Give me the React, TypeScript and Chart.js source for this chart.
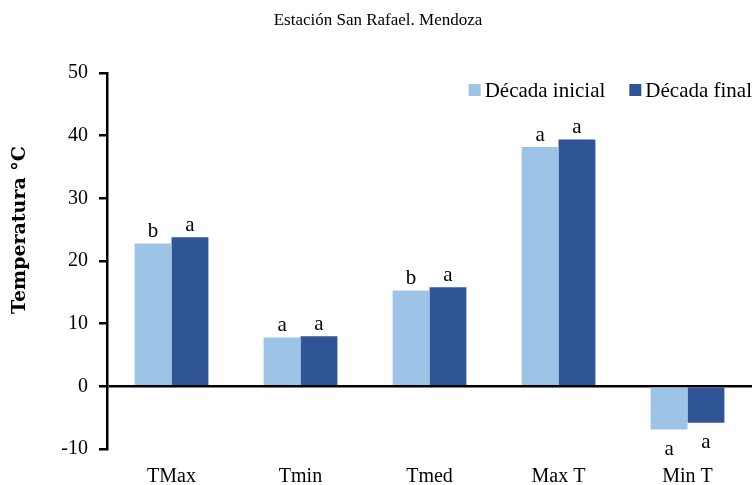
import React, { useEffect, useRef } from "react";
import { Chart, registerables } from "chart.js";

Chart.register(...registerables);

const categories = ["TMax", "Tmin", "Tmed", "Max T", "Min T"];
const seriesNames = ["Década inicial", "Década final"];
const inicialValues = [22.8, 7.8, 15.3, 38.2, -6.9];
const finalValues = [23.8, 8.0, 15.8, 39.4, -5.8];
const inicialLetters = ["b", "a", "b", "a", "a"];
const finalLetters = ["a", "a", "a", "a", "a"];
const yTicks = [-10, 0, 10, 20, 30, 40, 50];
const titleText = "Estación San Rafael. Mendoza";
const yTitle = "Temperatura °C";

const LIGHT = "#9DC3E6";
const DARK = "#2F5597";
const SERIF = "'Liberation Serif', serif";

const lettersPlugin = {
  id: "letters",
  afterDatasetsDraw(chart: any) {
    const ctx = chart.ctx;
    const letterSets = [inicialLetters, finalLetters];
    ctx.save();
    ctx.font = `21px ${SERIF}`;
    ctx.fillStyle = "#000";
    ctx.textAlign = "center";
    ctx.textBaseline = "alphabetic";
    chart.data.datasets.forEach((ds: any, di: number) => {
      const meta = chart.getDatasetMeta(di);
      meta.data.forEach((el: any, i: number) => {
        const v = ds.data[i];
        const txt = letterSets[di][i];
        if (v >= 0) ctx.fillText(txt, el.x, el.y - 6);
        else ctx.fillText(txt, el.x, el.y + 25);
      });
    });
    ctx.restore();
  },
};

const textPlugin = {
  id: "texts",
  afterDraw(chart: any) {
    const ctx = chart.ctx;
    const area = chart.chartArea;
    const xs = chart.scales.x;
    ctx.save();
    // category labels
    ctx.font = `20px ${SERIF}`;
    ctx.fillStyle = "#000";
    ctx.textAlign = "center";
    ctx.textBaseline = "alphabetic";
    categories.forEach((c, i) => {
      ctx.fillText(c, xs.getPixelForValue(i), area.bottom + 33);
    });
    // chart title
    ctx.font = `17px ${SERIF}`;
    ctx.fillText(titleText, chart.width / 2, 25);
    // y title
    ctx.save();
    ctx.translate(25, 230);
    ctx.rotate(-Math.PI / 2);
    ctx.font = `bold 19px 'DejaVu Serif', serif`;
    ctx.fillText(yTitle, 0, 0);
    ctx.restore();
    // legend
    ctx.font = `21px ${SERIF}`;
    ctx.textAlign = "left";
    const colors = [LIGHT, DARK];
    const right = chart.width - 4;
    const baseline = 97;
    const w1 = ctx.measureText(seriesNames[1]).width;
    const t2 = right - w1;
    const b2 = t2 - 16;
    const w0 = ctx.measureText(seriesNames[0]).width;
    const t1 = b2 - 24 - w0;
    const b1 = t1 - 16;
    const items = [
      { box: b1, text: t1 },
      { box: b2, text: t2 },
    ];
    items.forEach((it, i) => {
      ctx.fillStyle = colors[i];
      ctx.fillRect(it.box, baseline - 13, 12, 12);
      ctx.fillStyle = "#000";
      ctx.fillText(seriesNames[i], it.text, baseline);
    });
    ctx.restore();
  },
};

export default function App() {
  const ref = useRef<HTMLCanvasElement | null>(null);
  useEffect(() => {
    if (!ref.current) return;
    const chart = new Chart(ref.current, {
      type: "bar",
      data: {
        labels: categories,
        datasets: [
          {
            label: seriesNames[0],
            data: inicialValues,
            backgroundColor: LIGHT,
            borderWidth: 0,
            categoryPercentage: 0.572,
            barPercentage: 1.0,
          },
          {
            label: seriesNames[1],
            data: finalValues,
            backgroundColor: DARK,
            borderWidth: 0,
            categoryPercentage: 0.572,
            barPercentage: 1.0,
          },
        ],
      },
      options: {
        animation: false,
        responsive: true,
        maintainAspectRatio: false,
        layout: { padding: { left: 0, right: 4, top: 73, bottom: 36 } },
        plugins: {
          legend: { display: false },
          tooltip: { enabled: false },
          title: { display: false },
        },
        scales: {
          x: {
            display: false,
          },
          y: {
            min: -10,
            max: 50,
            afterBuildTicks: (s: any) => {
              s.ticks = yTicks.map((v) => ({ value: v }));
            },
            afterFit: (s: any) => {
              s.width = 107;
            },
            ticks: {
              color: "#000",
              font: { family: SERIF, size: 20 },
              padding: 11,
            },
            grid: {
              drawOnChartArea: true,
              color: (c: any) => (c.tick && c.tick.value === 0 ? "#000" : "rgba(0,0,0,0)"),
              lineWidth: 2.5,
              tickColor: "#000",
              tickLength: 8,
              tickWidth: 2.5,
            },
            border: { display: true, color: "#000", width: 2.5 },
            title: { display: false },
          },
        },
      },
      plugins: [lettersPlugin, textPlugin],
    });
    return () => chart.destroy();
  }, []);
  return (
    <div style={{ position: "fixed", left: 0, top: 0, width: 756, height: 485, background: "#fff" }}>
      <canvas ref={ref} />
    </div>
  );
}
